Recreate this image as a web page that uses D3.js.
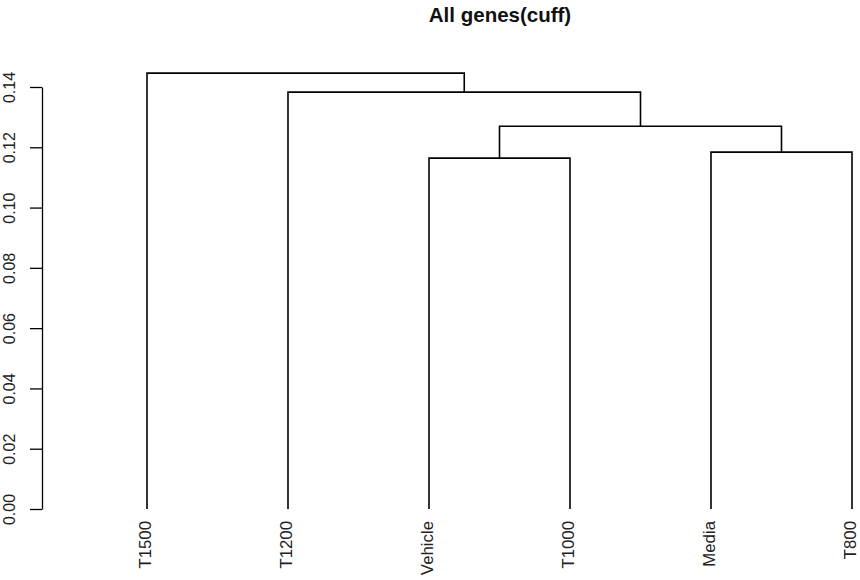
<!DOCTYPE html>
<html>
<head>
<meta charset="utf-8">
<script src="https://cdn.jsdelivr.net/npm/d3@7"></script>
<style>
  html, body { margin: 0; padding: 0; background: #fff; }
  svg { display: block; font-family: "Liberation Sans", Arial, sans-serif; }
</style>
</head>
<body>
<svg id="chart" width="860" height="580"></svg>
<script>
// Leaf labels, in plotting order
const labels = ["T1500", "T1200", "Vehicle", "T1000", "Media", "T800"];
// Agglomeration steps (hclust-style): negative = leaf (1-based), positive = earlier step
const mergeLeft   = [-3, -5, 1, -2, -1];
const mergeRight  = [-4, -6, 2,  3,  4];
const mergeHeight = [0.1164, 0.1184, 0.1270, 0.1383, 0.1446];
// Axis ticks
const yTicks = [0.00, 0.02, 0.04, 0.06, 0.08, 0.10, 0.12, 0.14];
const title = "All genes(cuff)";

const svg = d3.select("#chart");

const x = d3.scalePoint().domain(labels).range([147, 852]);
const y = d3.scaleLinear().domain([0, 0.14]).range([509, 87]);

// Build merge nodes with x-centre and height
const nodes = [];
function ref(i) {
  if (i < 0) return { x: x(labels[-i - 1]), h: 0 };
  return nodes[i - 1];
}
const segs = [];
mergeHeight.forEach((h, k) => {
  const a = ref(mergeLeft[k]), b = ref(mergeRight[k]);
  segs.push([[a.x, y(a.h)], [a.x, y(h)], [b.x, y(h)], [b.x, y(b.h)]]);
  nodes.push({ x: (a.x + b.x) / 2, h: h });
});

const line = d3.line();
svg.append("g").selectAll("path").data(segs).join("path")
  .attr("d", line)
  .attr("fill", "none")
  .attr("stroke", "#000")
  .attr("stroke-width", 1.6);

// Y axis
const yAxis = d3.axisLeft(y).tickValues(yTicks).tickFormat(d3.format(".2f"))
  .tickSizeOuter(0).tickSizeInner(12);
const gy = svg.append("g").attr("transform", "translate(42,0)").call(yAxis);
gy.select(".domain").attr("stroke", "#000").attr("stroke-width", 1.3);
gy.selectAll(".tick line").attr("stroke", "#000").attr("stroke-width", 1.3);
gy.selectAll(".tick text")
  .attr("font-size", 16)
  .attr("fill", "#222")
  .attr("x", null).attr("dy", null)
  .attr("text-anchor", "middle")
  .attr("transform", "translate(-27,0) rotate(-90)");

// Leaf labels
svg.append("g").selectAll("text").data(labels).join("text")
  .attr("transform", d => `translate(${x(d)},521) rotate(-90)`)
  .attr("text-anchor", "end")
  .attr("dy", "0.25em")
  .attr("font-size", 16.8)
  .attr("fill", "#222")
  .text(d => d);

// Title
svg.append("text")
  .attr("x", 500).attr("y", 22)
  .attr("text-anchor", "middle")
  .attr("font-weight", "bold")
  .attr("font-size", 20.5)
  .attr("fill", "#111")
  .text(title);
</script>
</body>
</html>
